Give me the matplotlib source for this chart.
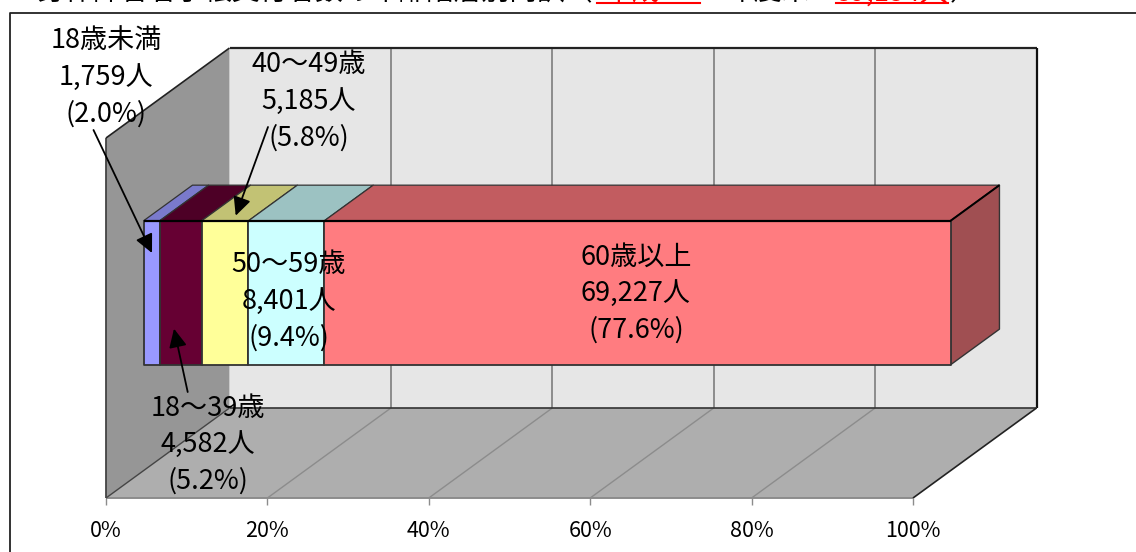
import matplotlib
matplotlib.use("Agg")
import matplotlib.pyplot as plt
from matplotlib.patches import Polygon
from matplotlib.lines import Line2D

plt.rcParams['font.family'] = ['Noto Sans CJK JP', 'DejaVu Sans']

# data
age_groups = ["18歳未満", "18～39歳", "40～49歳", "50～59歳", "60歳以上"]
people = ["1,759人", "4,582人", "5,185人", "8,401人", "69,227人"]
shares = [2.0, 5.2, 5.8, 9.4, 77.6]
front_colors = ["#9999FF", "#660033", "#FFFF99", "#CCFFFF", "#FF7C80"]
top_colors = ["#7A7ACC", "#4D0026", "#C2C274", "#9CC2C2", "#C25C60"]
side_color = "#A04F52"
axis_ticks = [0, 20, 40, 60, 80, 100]
axis_labels = ["0%", "20%", "40%", "60%", "80%", "100%"]

W, H = 1136, 552


def fx(x):
    return x / W


def fy(y):
    return 1 - y / H


fig = plt.figure(figsize=(W / 100, H / 100), dpi=100)
# axes = front plane of the 3d box, x in percent, z 0-100
ax = fig.add_axes([fx(106), fy(498), (913 - 106) / W, (498 - 138) / H])
ax.set_xlim(0, 100)
ax.set_ylim(0, 100)
ax.patch.set_visible(False)
for s in ax.spines.values():
    s.set_visible(False)
ax.set_yticks([])
ax.set_xticks(axis_ticks)
ax.set_xticklabels(axis_labels, fontsize=15.5)
ax.tick_params(axis='x', length=5, width=1, color="#8C8C8C", pad=11)

DX = 123.5 / 807 * 100
DZ = 90 / 360 * 100
BAR_D0, BAR_D1 = 0.304, 0.70
BAR_Z0, BAR_Z1 = 29.4, 69.4


def pr(x, z, d):
    return (x + d * DX, z + d * DZ)


def face(pts, color, ec="#333333", lw=1.0, zorder=2):
    ax.add_patch(Polygon(pts, closed=True, fc=color, ec=ec, lw=lw, zorder=zorder,
                         clip_on=False, joinstyle='round'))


def edge(p0, p1, color, lw=1.0, zorder=2):
    ax.plot([p0[0], p1[0]], [p0[1], p1[1]], color=color, lw=lw, zorder=zorder,
            clip_on=False, solid_capstyle='butt')


# walls and floor
face([pr(0, 0, 1), pr(100, 0, 1), pr(100, 100, 1), pr(0, 100, 1)], "#E6E6E6", ec="none", zorder=1)
face([pr(0, 0, 0), pr(0, 0, 1), pr(0, 100, 1), pr(0, 100, 0)], "#969696", ec="none", zorder=1)
face([pr(0, 0, 0), pr(100, 0, 0), pr(100, 0, 1), pr(0, 0, 1)], "#AEAEAE", ec="none", zorder=1)

for t in axis_ticks[1:-1]:
    edge(pr(t, 0, 1), pr(t, 100, 1), "#8C8C8C", lw=1.4)
    edge(pr(t, 0, 0), pr(t, 0, 1), "#8C8C8C", lw=1.0)
edge(pr(0, 0, 0), pr(100, 0, 0), "#8C8C8C", lw=1.4)
edge(pr(0, 0, 0), pr(0, 100, 0), "#444444", lw=1.3)
edge(pr(0, 100, 0), pr(0, 100, 1), "#222222", lw=1.2)
edge(pr(0, 100, 1), pr(100, 100, 1), "#222222", lw=1.6)
edge(pr(100, 100, 1), pr(100, 0, 1), "#111111", lw=1.6)
edge(pr(0, 0, 1), pr(100, 0, 1), "#333333", lw=1.2)
edge(pr(0, 0, 0), pr(0, 0, 1), "#444444", lw=1.0)
edge(pr(100, 0, 0), pr(100, 0, 1), "#222222", lw=1.2)

# stacked bar
left = 0
for share, fc, tc in zip(shares, front_colors, top_colors):
    right = left + share
    face([pr(left, BAR_Z1, BAR_D0), pr(right, BAR_Z1, BAR_D0),
          pr(right, BAR_Z1, BAR_D1), pr(left, BAR_Z1, BAR_D1)], tc, lw=0.9, zorder=3)
    face([pr(left, BAR_Z0, BAR_D0), pr(right, BAR_Z0, BAR_D0),
          pr(right, BAR_Z1, BAR_D0), pr(left, BAR_Z1, BAR_D0)], fc, lw=1.3, zorder=4)
    left = right
face([pr(left, BAR_Z0, BAR_D0), pr(left, BAR_Z0, BAR_D1),
      pr(left, BAR_Z1, BAR_D1), pr(left, BAR_Z1, BAR_D0)], side_color, lw=1.0, zorder=3)
edge(pr(0, BAR_Z1, BAR_D0), pr(left, BAR_Z1, BAR_D0), "black", lw=1.6, zorder=5)
edge(pr(left, BAR_Z1, BAR_D0), pr(left, BAR_Z1, BAR_D1), "black", lw=1.4, zorder=5)

# labels, pixel position of the first line, then 36 px down
label_x = [106, 208, 309, 289, 636]
label_y = [41, 408, 65, 265, 257]
for i in range(5):
    lines = [age_groups[i], people[i], "(%.1f%%)" % shares[i]]
    for j, txt in enumerate(lines):
        fig.text(fx(label_x[i]), fy(label_y[i] + j * 36.3), txt, ha='center', va='center',
                 fontsize=19.5, color="black", zorder=10)

# leader arrows
arrow_from = [(93.5, 130), (187.7, 392), (268, 127)]
arrow_to = [(152, 253), (174, 328.7), (235.7, 215.7)]
for p0, p1 in zip(arrow_from, arrow_to):
    ax.annotate("", xy=(fx(p1[0]), fy(p1[1])), xytext=(fx(p0[0]), fy(p0[1])),
                xycoords='figure fraction', textcoords='figure fraction', zorder=9,
                arrowprops=dict(arrowstyle="-|>,head_length=0.75,head_width=0.36", color="black",
                                lw=1.3, shrinkA=0, shrinkB=0, mutation_scale=15))

# outer frame
fig.add_artist(Line2D([fx(10), fx(10), 1], [0, fy(12.5), fy(12.5)], color="#222222", lw=1.3))

# heading, cut off by the top edge of the picture
title_y = fy(0.5)
fig.text(fx(592), title_y, "５　身体障害者手帳交付者数の年齢階層別内訳（", fontsize=20, va='baseline', ha='right')
fig.text(fx(648), title_y, "平成24", fontsize=20, va='baseline', ha='center', color="red")
fig.text(fx(768), title_y, "年度末", fontsize=20, va='baseline', ha='center')
fig.text(fx(892), title_y, "89,154人", fontsize=20, va='baseline', ha='center', color="red")
fig.text(fx(950), title_y, "）", fontsize=20, va='baseline', ha='left')
fig.add_artist(Line2D([fx(597), fx(700)], [fy(2.5), fy(2.5)], color="red", lw=1.5))
fig.add_artist(Line2D([fx(836), fx(948)], [fy(2.5), fy(2.5)], color="red", lw=1.5))

fig.savefig("out.png", dpi=100)
